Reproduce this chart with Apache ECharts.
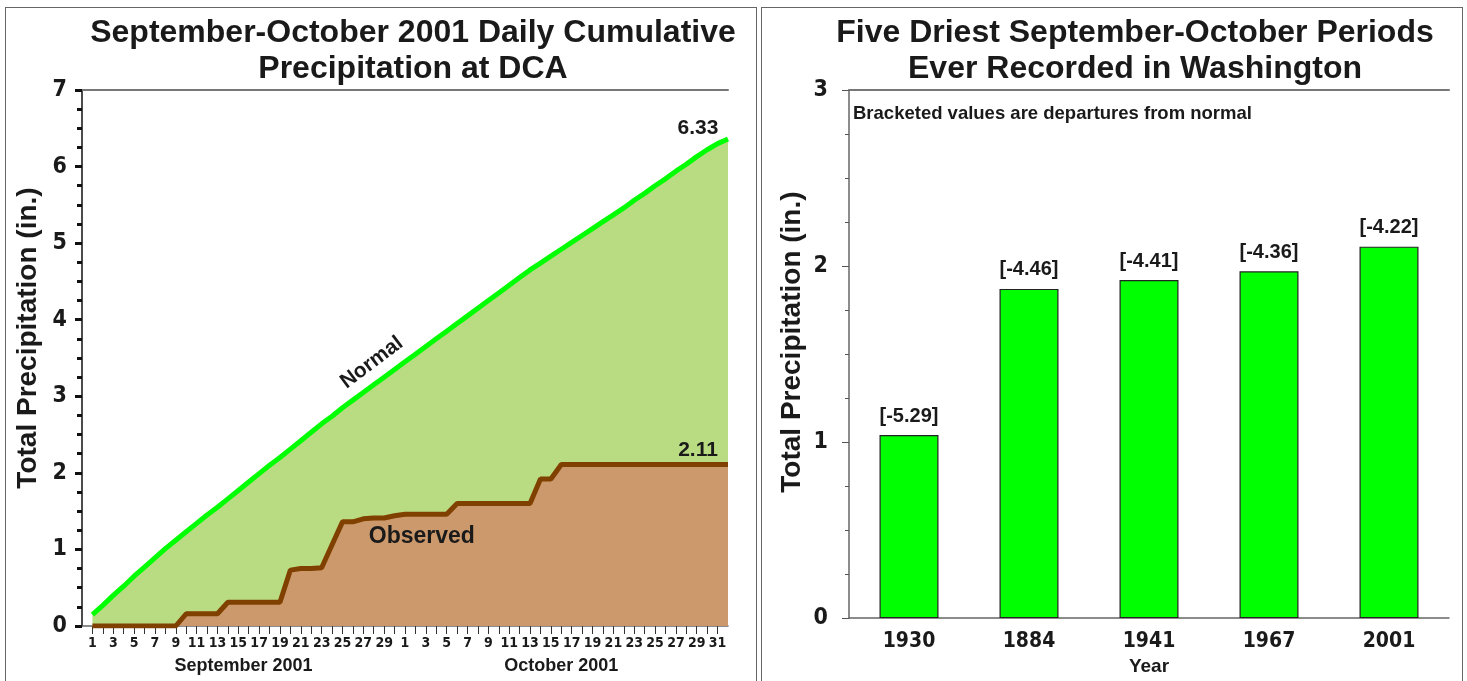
<!DOCTYPE html>
<html>
<head>
<meta charset="utf-8">
<script src="https://cdn.jsdelivr.net/npm/echarts@6/dist/echarts.min.js"></script>
<style>
  html, body { margin: 0; padding: 0; background: #fff; }
  .panel { position: absolute; border: 1.5px solid #666; box-sizing: border-box; }
  #chart { position: absolute; left: 0; top: 0; width: 1467px; height: 681px; }
</style>
</head>
<body>
<div class="panel" style="left:5px; top:7px; width:752px; height:700px;"></div>
<div class="panel" style="left:761px; top:7px; width:702px; height:700px;"></div>
<div id="chart"></div>
<script>
// ---------- Data ----------
const monthNames = ['September 2001', 'October 2001'];
const monthDays = [30, 31];
// normal cumulative precipitation (index 0 = axis origin, index 62 = end of period)
const normalValues = [null,
  0.15, 0.27, 0.40, 0.52, 0.65, 0.77, 0.89, 1.01, 1.12, 1.23,
  1.34, 1.45, 1.55, 1.66, 1.77, 1.88, 1.99, 2.10, 2.20, 2.31,
  2.42, 2.53, 2.64, 2.74, 2.85, 2.95, 3.05, 3.15, 3.25, 3.35,
  3.45, 3.55, 3.65, 3.75, 3.85, 3.95, 4.05, 4.15, 4.25, 4.35,
  4.45, 4.55, 4.65, 4.74, 4.83, 4.92, 5.01, 5.10, 5.19, 5.28,
  5.37, 5.46, 5.56, 5.65, 5.75, 5.84, 5.94, 6.03, 6.13, 6.22,
  6.30, 6.36];
// observed cumulative precipitation
const observedValues = [null,
  0.00, 0.00, 0.00, 0.00, 0.00, 0.00, 0.00, 0.00, 0.00, 0.16,
  0.16, 0.16, 0.16, 0.31, 0.31, 0.31, 0.31, 0.31, 0.31, 0.73,
  0.75, 0.75, 0.76, 1.06, 1.36, 1.36, 1.40, 1.41, 1.41, 1.44,
  1.46, 1.46, 1.46, 1.46, 1.46, 1.60, 1.60, 1.60, 1.60, 1.60,
  1.60, 1.60, 1.60, 1.92, 1.92, 2.11, 2.11, 2.11, 2.11, 2.11,
  2.11, 2.11, 2.11, 2.11, 2.11, 2.11, 2.11, 2.11, 2.11, 2.11,
  2.11, 2.11];
const totalLabels = ['6.33', '2.11'];
const curveNames = ['Normal', 'Observed'];

const years = ['1930', '1884', '1941', '1967', '2001'];
const yearTotals = [1.04, 1.87, 1.92, 1.97, 2.11];
const departures = [-5.29, -4.46, -4.41, -4.36, -4.22];

// ---------- Derived tick labels ----------
const dayLabels = [''];
monthDays.forEach(n => { for (let d = 1; d <= n; d++) dayLabels.push(String(d)); });
dayLabels.push('');
const monthCenters = [];
let start = 1;
monthDays.forEach(n => { monthCenters.push(start + (n - 1) / 2); start += n; });
const lastIdx = dayLabels.length - 1;

const TITLE_FONT = "'Liberation Sans', Arial, sans-serif";
const NARROW = "'Liberation Sans Narrow', 'Arial Narrow', 'DejaVu Sans Condensed', 'Liberation Sans', sans-serif";
const INK = '#1a1a1a';

const chart = echarts.init(document.getElementById('chart'), null, { renderer: 'canvas' });

const option = {
  animation: false,
  title: [
    { text: 'September-October 2001 Daily Cumulative\nPrecipitation at DCA', left: 413, top: 15, textAlign: 'center', padding: 0,
      textStyle: { fontFamily: TITLE_FONT, fontWeight: 'bold', fontSize: 32, lineHeight: 36, color: INK } },
    { text: 'Five Driest September-October Periods\nEver Recorded in Washington', left: 1135, top: 15, textAlign: 'center', padding: 0,
      textStyle: { fontFamily: TITLE_FONT, fontWeight: 'bold', fontSize: 32, lineHeight: 36, color: INK } },
    { text: 'Bracketed values are departures from normal', left: 853, top: 104, padding: 0,
      textStyle: { fontFamily: TITLE_FONT, fontWeight: 'bold', fontSize: 18.5, color: INK } }
  ],
  grid: [
    { left: 82, right: 1467 - 728, top: 90, bottom: 681 - 626, containLabel: false },
    { left: 849, right: 1467 - 1449, top: 90, bottom: 681 - 620, containLabel: false }
  ],
  xAxis: [
    { // days
      type: 'category', gridIndex: 0, data: dayLabels, boundaryGap: false, position: 'bottom',
      axisLine: { show: true, lineStyle: { color: '#666', width: 1.5 } },
      axisTick: { show: true, interval: (i) => i >= 1 && i < lastIdx, length: 8, lineStyle: { color: '#333', width: 1 } },
      axisLabel: { interval: (i) => i % 2 === 1, fontFamily: NARROW, fontWeight: 'bold', fontSize: 14, color: INK, margin: 10 },
      splitLine: { show: false }
    },
    { // top frame line
      type: 'category', gridIndex: 0, data: dayLabels, boundaryGap: false, position: 'top',
      axisLine: { show: true, lineStyle: { color: '#777', width: 2 } },
      axisTick: { show: false }, axisLabel: { show: false }, splitLine: { show: false }
    },
    { // month labels
      type: 'value', gridIndex: 0, min: 0, max: lastIdx, position: 'bottom', offset: 23,
      axisLine: { show: false }, axisTick: { show: false }, splitLine: { show: false },
      axisLabel: { customValues: monthCenters, formatter: (v) => monthNames[monthCenters.indexOf(v)] || '',
        fontFamily: TITLE_FONT, fontWeight: 'bold', fontSize: 18, color: INK, margin: 8 }
    },
    { // years
      type: 'category', gridIndex: 1, data: years, position: 'bottom',
      axisLine: { show: true, lineStyle: { color: '#666', width: 1.5 } },
      axisTick: { show: false },
      axisLabel: { fontFamily: NARROW, fontWeight: 'bold', fontSize: 21, color: INK, margin: 13 },
      name: 'Year', nameLocation: 'middle', nameGap: 36,
      nameTextStyle: { fontFamily: TITLE_FONT, fontWeight: 'bold', fontSize: 19, color: INK }
    },
    { // top frame line right
      type: 'category', gridIndex: 1, data: years, position: 'top',
      axisLine: { show: true, lineStyle: { color: '#777', width: 2 } },
      axisTick: { show: false }, axisLabel: { show: false }, splitLine: { show: false }
    }
  ],
  yAxis: [
    {
      type: 'value', gridIndex: 0, min: 0, max: 7, interval: 1,
      axisLine: { show: true, lineStyle: { color: '#111', width: 1.5 } },
      axisTick: { show: true, length: 7, lineStyle: { color: '#111', width: 3 } },
      minorTick: { show: true, splitNumber: 4, length: 5, lineStyle: { color: '#111', width: 3 } },
      splitLine: { show: false },
      axisLabel: { fontFamily: NARROW, fontWeight: 'bold', fontSize: 23, color: INK, margin: 15 },
      name: 'Total Precipitation (in.)', nameLocation: 'middle', nameGap: 40, nameRotate: 90,
      nameTextStyle: { fontFamily: TITLE_FONT, fontWeight: 'bold', fontSize: 28, color: INK, padding: [0, 0, 0, 40] }
    },
    {
      type: 'value', gridIndex: 1, min: 0, max: 3, interval: 1,
      axisLine: { show: true, lineStyle: { color: '#666', width: 1.5 } },
      axisTick: { show: true, length: 7, lineStyle: { color: '#555', width: 1 } },
      minorTick: { show: true, splitNumber: 4, length: 4, lineStyle: { color: '#555', width: 1 } },
      splitLine: { show: false },
      axisLabel: { fontFamily: NARROW, fontWeight: 'bold', fontSize: 23, color: INK, margin: 21 },
      name: 'Total Precipitation (in.)', nameLocation: 'middle', nameGap: 43, nameRotate: 90,
      nameTextStyle: { fontFamily: TITLE_FONT, fontWeight: 'bold', fontSize: 28, color: INK, padding: [0, 0, 0, 24] }
    }
  ],
  series: [
    {
      name: 'Normal', type: 'line', xAxisIndex: 0, yAxisIndex: 0, data: normalValues,
      symbol: 'none', lineStyle: { color: '#00ff00', width: 5 },
      areaStyle: { color: '#b9db82', opacity: 1 }, z: 2,
      markPoint: {
        symbol: 'circle', symbolSize: 0,
        data: [
          { coord: [lastIdx, normalValues[lastIdx]], value: totalLabels[0],
            label: { show: true, formatter: totalLabels[0], position: 'top', offset: [-30, 5],
              fontFamily: TITLE_FONT, fontWeight: 'bold', fontSize: 21, color: INK } },
          { coord: [28, normalValues[28]], value: curveNames[0],
            label: { show: true, formatter: curveNames[0], position: 'top', distance: 8, rotate: 37, offset: [7, -2],
              fontFamily: TITLE_FONT, fontWeight: 'bold', fontSize: 21, color: INK } }
        ]
      }
    },
    {
      name: 'Observed', type: 'line', xAxisIndex: 0, yAxisIndex: 0, data: observedValues,
      symbol: 'none', lineStyle: { color: '#804000', width: 5 },
      areaStyle: { color: '#cc996d', opacity: 1 }, z: 3,
      markPoint: {
        symbol: 'circle', symbolSize: 0,
        data: [
          { coord: [lastIdx, observedValues[lastIdx]], value: totalLabels[1],
            label: { show: true, formatter: totalLabels[1], position: 'top', offset: [-30, 1],
              fontFamily: TITLE_FONT, fontWeight: 'bold', fontSize: 21, color: INK } },
          { coord: [33, observedValues[33]], value: curveNames[1],
            label: { show: true, formatter: curveNames[1], position: 'bottom', distance: 10, offset: [-4, 1],
              fontFamily: TITLE_FONT, fontWeight: 'bold', fontSize: 23, color: INK } }
        ]
      }
    },
    {
      name: 'Driest', type: 'bar', xAxisIndex: 3, yAxisIndex: 1, data: yearTotals, barWidth: 59,
      itemStyle: { color: '#00ff00', borderColor: '#222', borderWidth: 1.2 },
      label: { show: true, position: 'top', distance: 9,
        formatter: (p) => '[' + departures[p.dataIndex].toFixed(2) + ']',
        fontFamily: TITLE_FONT, fontWeight: 'bold', fontSize: 20, color: INK }
    }
  ]
};
chart.setOption(option);
</script>
</body>
</html>
